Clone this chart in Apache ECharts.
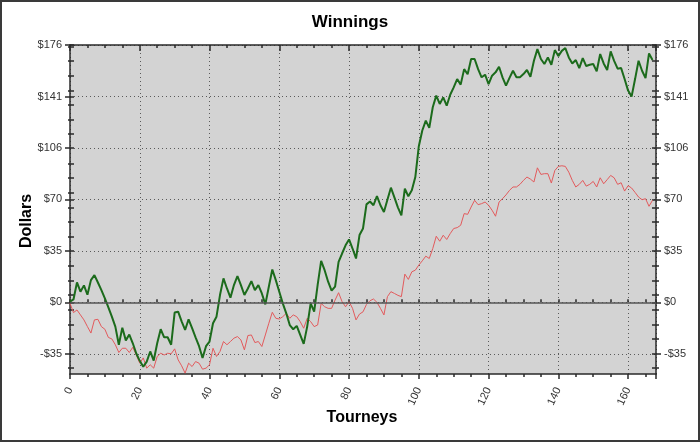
<!DOCTYPE html>
<html>
<head>
<meta charset="utf-8">
<script src="https://cdn.jsdelivr.net/npm/echarts@6/dist/echarts.min.js"></script>
<style>
html,body{margin:0;padding:0;background:#fff;}
#wrap{position:relative;width:700px;height:442px;}
#chart{position:absolute;left:0;top:0;width:700px;height:442px;}
#frame{position:absolute;left:0;top:0;width:700px;height:442px;box-sizing:border-box;border:2px solid #3a3a3a;pointer-events:none;}
</style>
</head>
<body>
<div id="wrap"><div id="chart"></div><div id="frame"></div></div>
<script>
// Cumulative winnings per tourney (dollars)
const greenValues = [
0.5,2,13.6,7.3,11.6,5.2,15.2,18.6,13.6,8.4,
2.7,-3.4,-9.8,-16.6,-29,-17.3,-26,-22,-28,-35,
-40,-44,-40.5,-33.6,-39.8,-28,-18.4,-23.9,-23.9,-29,
-7,-6.4,-13,-18.9,-11.6,-17.7,-23.9,-30,-38,-30,
-26.8,-14.3,-9.8,5,16.4,9.5,3.2,11.8,18,11.8,
5,9.5,14.5,8.4,11.8,6.1,-1.4,10.7,22.5,15.2,
7.3,-0.7,-7.5,-15.5,-18.4,-16.1,-22.3,-28.4,-16.6,-0.7,
-6.4,12,28.4,22,14.1,8,10.7,27.7,33.4,39,
43,36.8,30,46,50.5,67,69,66.4,72.7,66.4,
61.8,70.2,78.4,71.8,65,59.5,77.7,72.5,76.6,85.7,
106.8,117.5,124.3,119.3,133.4,141.4,135.7,140.2,134.5,142,
147,152.7,148.9,159.5,156,166.4,166.4,159.5,153.9,155.7,
149.3,155,157.3,161.1,153.9,148.2,153.5,158.4,153.9,153.9,
156.1,158.9,154.3,165.2,173.2,166.4,163,167.5,162.5,172.5,
168.4,172,173.9,167.5,163.4,165.7,160.2,167,161.6,162.5,
163,158,169.8,163.4,158.9,171.6,165.2,159.8,160.2,152.7,
144.8,140.7,152.7,165.2,158.4,153.4,170.2,165.7
];
const redValues = [
-0.7,-7,-5.2,-8.6,-12,-16.6,-21,-12,-11.6,-16.6,
-18.4,-24,-25,-29,-34.3,-31.4,-31.4,-34.3,-30.7,-36,
-41.6,-38,-45,-42.7,-45,-37,-34.8,-36,-34.8,-35.2,
-31.8,-39.3,-43.4,-48.4,-41.6,-43.9,-40.5,-41.6,-45.7,-45,
-42.7,-31.4,-37,-33.6,-26.8,-29,-26.8,-24.5,-23.4,-25.7,
-32.5,-22.7,-22.3,-27.5,-26.8,-30.2,-22.3,-14.3,-6.8,-10.9,
-11.4,-9.8,-7.5,-10.9,-8.6,-9.8,-13.2,-17.7,-10.9,-13.2,
-16.6,-15.5,-0.7,-3,-4.1,-4.1,1.6,6.6,0.5,-3,
0.5,-4.1,-12,-8,-6.5,-1.4,1.1,2.3,0,-4.1,
-8.6,3.9,7.3,6.1,4.8,3.9,19.3,15.7,20.9,22,
25.5,28.4,31.6,30,36.8,45.2,41.8,45.9,43,47,
50.5,51.1,52.7,60.7,60.2,65.2,69.8,66.8,67.5,68.6,
66.4,63,58.9,68.6,70.9,73.5,76.6,78.9,78.9,80.7,
83.4,85.7,84.3,82.3,92,87.5,88,88,81.6,90.2,
93,93.4,93,89,83.4,78.9,80.7,83.4,79.5,80.7,
82.7,78.9,85.2,81.1,83.9,86.8,85.2,80.7,81.8,76.1,
79.8,78.2,75.2,72,70.2,70.9,65.7,69.8
];
const tourneys = greenValues.map((_, i) => i);
const yMajorTicks = [-35.2, 0, 35.2, 70.4, 105.6, 140.8, 176];
const yMinorTicks = [-45, -25, -15, -5, 5, 15, 25, 45, 55, 65, 75, 85, 95, 115, 125, 135, 145, 155, 165, 175];
const yMin = -49, yMax = 176, yStep = 35.2;
const xMin = 0, xMax = 168, xStep = 20, xMinorStep = 5;

const FONT = '"Liberation Sans", Arial, sans-serif';
const dollar = v => { const r = Math.round(v); return (r < 0 ? '-$' : '$') + Math.abs(r); };
const yAllTicks = yMajorTicks.concat(yMinorTicks);
const axisColor = '#2a2a2a';
const gridDot = { color: '#5a5a5a', width: 1, type: [1, 3] };

const chart = echarts.init(document.getElementById('chart'), null, { renderer: 'canvas' });
const grid = { left: 70, right: 44, top: 45, bottom: 68, show: true, backgroundColor: '#d3d3d3', borderWidth: 0 };

const yAxisDef = (pos, opts) => ({
  type: 'value', position: pos, min: yMin, max: yMax, interval: yStep, gridIndex: 0,
  axisLine: { show: !!opts.line, onZero: false, lineStyle: { color: axisColor, width: 1.5 } },
  axisTick: { show: true, inside: !!opts.inside, length: opts.len, customValues: opts.ticks, lineStyle: { color: axisColor, width: 1.5 } },
  axisLabel: opts.labels ? { show: true, customValues: yMajorTicks, formatter: dollar, fontFamily: FONT, fontSize: 11, color: '#333', margin: 8 } : { show: false },
  splitLine: opts.split ? { show: true, lineStyle: gridDot } : { show: false }
});

const option = {
  animation: false,
  backgroundColor: '#ffffff',
  title: { text: 'Winnings', left: 'center', top: 9, textStyle: { fontFamily: FONT, fontWeight: 'bold', fontSize: 17, color: '#000' } },
  grid: grid,
  xAxis: [
    { type: 'value', position: 'bottom', min: xMin, max: xMax, interval: xStep,
      axisLine: { onZero: false, lineStyle: { color: axisColor, width: 1.5 } },
      axisTick: { show: true, length: 5, lineStyle: { color: axisColor, width: 1.5 } },
      minorTick: { show: true, splitNumber: 4, length: 3, lineStyle: { color: axisColor, width: 1.5 } },
      axisLabel: { rotate: 65, fontFamily: FONT, fontSize: 11, color: '#333', margin: 14, showMaxLabel: false },
      splitLine: { show: true, lineStyle: gridDot } },
    { type: 'value', position: 'bottom', min: xMin, max: xMax, interval: xMinorStep,
      axisLine: { show: false }, axisTick: { show: true, inside: true, length: 3, lineStyle: { color: axisColor, width: 1.5 } },
      axisLabel: { show: false }, splitLine: { show: false } },
    { type: 'value', position: 'top', min: xMin, max: xMax, interval: xStep,
      axisLine: { show: true, onZero: false, lineStyle: { color: axisColor, width: 1.5 } },
      axisTick: { show: true, inside: true, length: 6, lineStyle: { color: axisColor, width: 1.5 } },
      minorTick: { show: true, splitNumber: 4, length: 3, lineStyle: { color: axisColor, width: 1.5 } },
      axisLabel: { show: false }, splitLine: { show: false } }
  ],
  yAxis: [
    yAxisDef('left', { line: true, labels: true, split: true, ticks: yMajorTicks, len: 5 }),
    yAxisDef('left', { ticks: yMinorTicks, len: 2 }),
    yAxisDef('left', { inside: true, ticks: yAllTicks, len: 4 }),
    yAxisDef('right', { line: true, labels: true, ticks: yMajorTicks, len: 5 }),
    yAxisDef('right', { ticks: yMinorTicks, len: 3 }),
    yAxisDef('right', { inside: true, ticks: yAllTicks, len: 4 })
  ],
  graphic: [
    { type: 'text', x: 27, y: 221, rotation: Math.PI / 2, style: { text: 'Dollars', font: 'bold 16px ' + FONT, fill: '#000', textAlign: 'center', textVerticalAlign: 'middle' } },
    { type: 'text', x: 362, y: 418, style: { text: 'Tourneys', font: 'bold 16px ' + FONT, fill: '#000', textAlign: 'center', textVerticalAlign: 'middle' } }
  ],
  series: [
    { name: 'Red', type: 'line', xAxisIndex: 0, yAxisIndex: 0, showSymbol: false, symbol: 'none',
      data: redValues.map((v, i) => [tourneys[i], v]),
      lineStyle: { color: '#e25a5c', width: 1 }, z: 3,
      markLine: { silent: true, symbol: 'none', label: { show: false },
        lineStyle: { color: '#555', width: 1.5, type: 'solid' }, data: [{ yAxis: 0 }] } },
    { name: 'Green', type: 'line', xAxisIndex: 0, yAxisIndex: 0, showSymbol: false, symbol: 'none',
      data: greenValues.map((v, i) => [tourneys[i], v]),
      lineStyle: { color: '#1c6b1c', width: 2 }, z: 4 }
  ]
};
chart.setOption(option);
</script>
</body>
</html>
